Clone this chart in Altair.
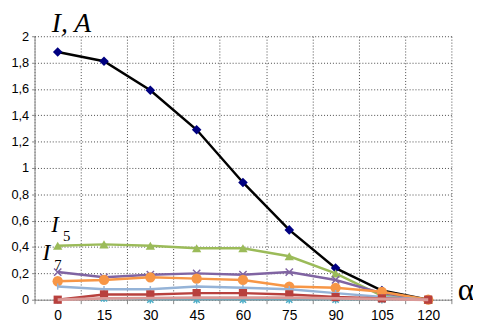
import altair as alt
import pandas as pd

alpha = [0, 15, 30, 45, 60, 75, 90, 105, 120]
i_total = [1.88, 1.81, 1.59, 1.29, 0.89, 0.53, 0.24, 0.07, 0.0]
i5 = [0.41, 0.42, 0.41, 0.39, 0.39, 0.33, 0.20, 0.03, 0.0]
i7 = [0.21, 0.17, 0.19, 0.20, 0.19, 0.21, 0.15, 0.05, 0.0]
i_orange = [0.14, 0.15, 0.17, 0.16, 0.15, 0.10, 0.09, 0.06, 0.0]
i_lightblue = [0.10, 0.08, 0.08, 0.10, 0.09, 0.08, 0.05, 0.02, 0.0]
i_darkred = [0.0, 0.04, 0.04, 0.05, 0.05, 0.04, 0.02, 0.01, 0.0]
i_cyan = [0.0, 0.01, 0.0, 0.0, 0.0, 0.0, 0.0, 0.0, 0.0]
i_pink = [0.0, 0.01, 0.012, 0.015, 0.015, 0.015, 0.01, 0.005, 0.0]
y_ticks = [0, 0.2, 0.4, 0.6, 0.8, 1.0, 1.2, 1.4, 1.6, 1.8, 2.0]

X_SHAPE = "M-1,-1L1,1M-1,1L1,-1"
STAR_SHAPE = "M-1,-1L1,1M-1,1L1,-1M0,-1.2L0,1.2"
PLUS_SHAPE = "M0,-1L0,1"

# (values, line colour, marker colour, shape, filled, size, line width)
series = [
    (i_cyan, "#4BACC6", "#4BACC6", STAR_SHAPE, False, 40, 1.2),
    (i_total, "#000000", "#000080", "diamond", True, 95, 2.5),
    (i5, "#9BBB59", "#9BBB59", "triangle-up", True, 90, 2.5),
    (i7, "#8064A2", "#8064A2", X_SHAPE, False, 55, 2.5),
    (i_orange, "#F79646", "#F79646", "circle", True, 110, 2.5),
    (i_lightblue, "#95B3D7", "#95B3D7", PLUS_SHAPE, False, 40, 2.5),
    (i_darkred, "#B8403D", "#B8403D", "square", True, 70, 2.5),
    (i_pink, "#DA9A98", None, None, True, 0, 3),
]

x_enc = alt.X(
    "alpha:O",
    sort=alpha,
    scale=alt.Scale(type="band", paddingInner=0, paddingOuter=0),
    axis=alt.Axis(
        title="α",
        titleFont="Liberation Serif",
        titleFontSize=32,
        titleFontWeight="normal",
        titleAngle=0,
        titleAlign="left",
        titleBaseline="middle",
        titleX=430,
        titleY=-10,
        labelAngle=0,
        tickBand="extent",
        labelPadding=5,
        labelFontSize=14,
    ),
)
y_enc = alt.Y(
    "value:Q",
    scale=alt.Scale(domain=[0, 2], nice=False),
    axis=alt.Axis(
        title="I, A",
        titleFont="Liberation Serif",
        titleFontSize=28,
        titleFontStyle="italic",
        titleFontWeight="normal",
        titleAngle=0,
        titleAlign="left",
        titleBaseline="alphabetic",
        titleX=17,
        titleY=-5,
        values=y_ticks,
        labelExpr="replace(format(datum.value, '.1~f'), '.', ',')",
        labelPadding=3,
        tickSize=3,
        labelFontSize=13,
    ),
)

layers = []
for vals, lcol, mcol, shape, filled, size, lw in series:
    df = pd.DataFrame({"alpha": alpha, "value": vals})
    base = alt.Chart(df)
    layers.append(
        base.mark_line(color=lcol, strokeWidth=lw).encode(x=x_enc, y=y_enc)
    )
    if shape is not None:
        if filled:
            pm = base.mark_point(filled=True, shape=shape, size=size, color=mcol, opacity=1)
        else:
            pm = base.mark_point(filled=False, shape=shape, size=size, color=mcol,
                                 strokeWidth=1.5, opacity=1)
        layers.append(pm.encode(x=x_enc, y=y_enc))


def label(txt, x, y, size, italic=True):
    return alt.Chart(pd.DataFrame({"t": [txt]})).mark_text(
        font="Liberation Serif",
        fontSize=size,
        fontStyle="italic" if italic else "normal",
        align="left",
        baseline="alphabetic",
        color="#000000",
    ).encode(x=alt.value(x), y=alt.value(y), text="t:N")


layers += [
    label("I", 17, 199, 23),
    label("5", 29, 208, 15, italic=False),
    label("I", 8, 228, 24),
    label("7", 20, 238, 15, italic=False),
]

chart = (
    alt.layer(*layers)
    .properties(
        width=424,
        height=268,
        autosize=alt.AutoSizeParams(type="none"),
        padding={"left": 27, "top": 26, "right": 22, "bottom": 23},
    )
    .configure_view(stroke=None)
    .configure_axis(
        labelFont="Liberation Sans",
        labelColor="#000000",
        domainColor="#868686",
        domainWidth=1,
        tickColor="#868686",
        tickSize=4,
        grid=True,
        gridColor="#333333",
        gridDash=[1, 2],
        gridWidth=1,
        gridOpacity=0.9,
        titleColor="#000000",
    )
)

chart.save("out.html", embed_options={"renderer": "svg", "actions": False})
